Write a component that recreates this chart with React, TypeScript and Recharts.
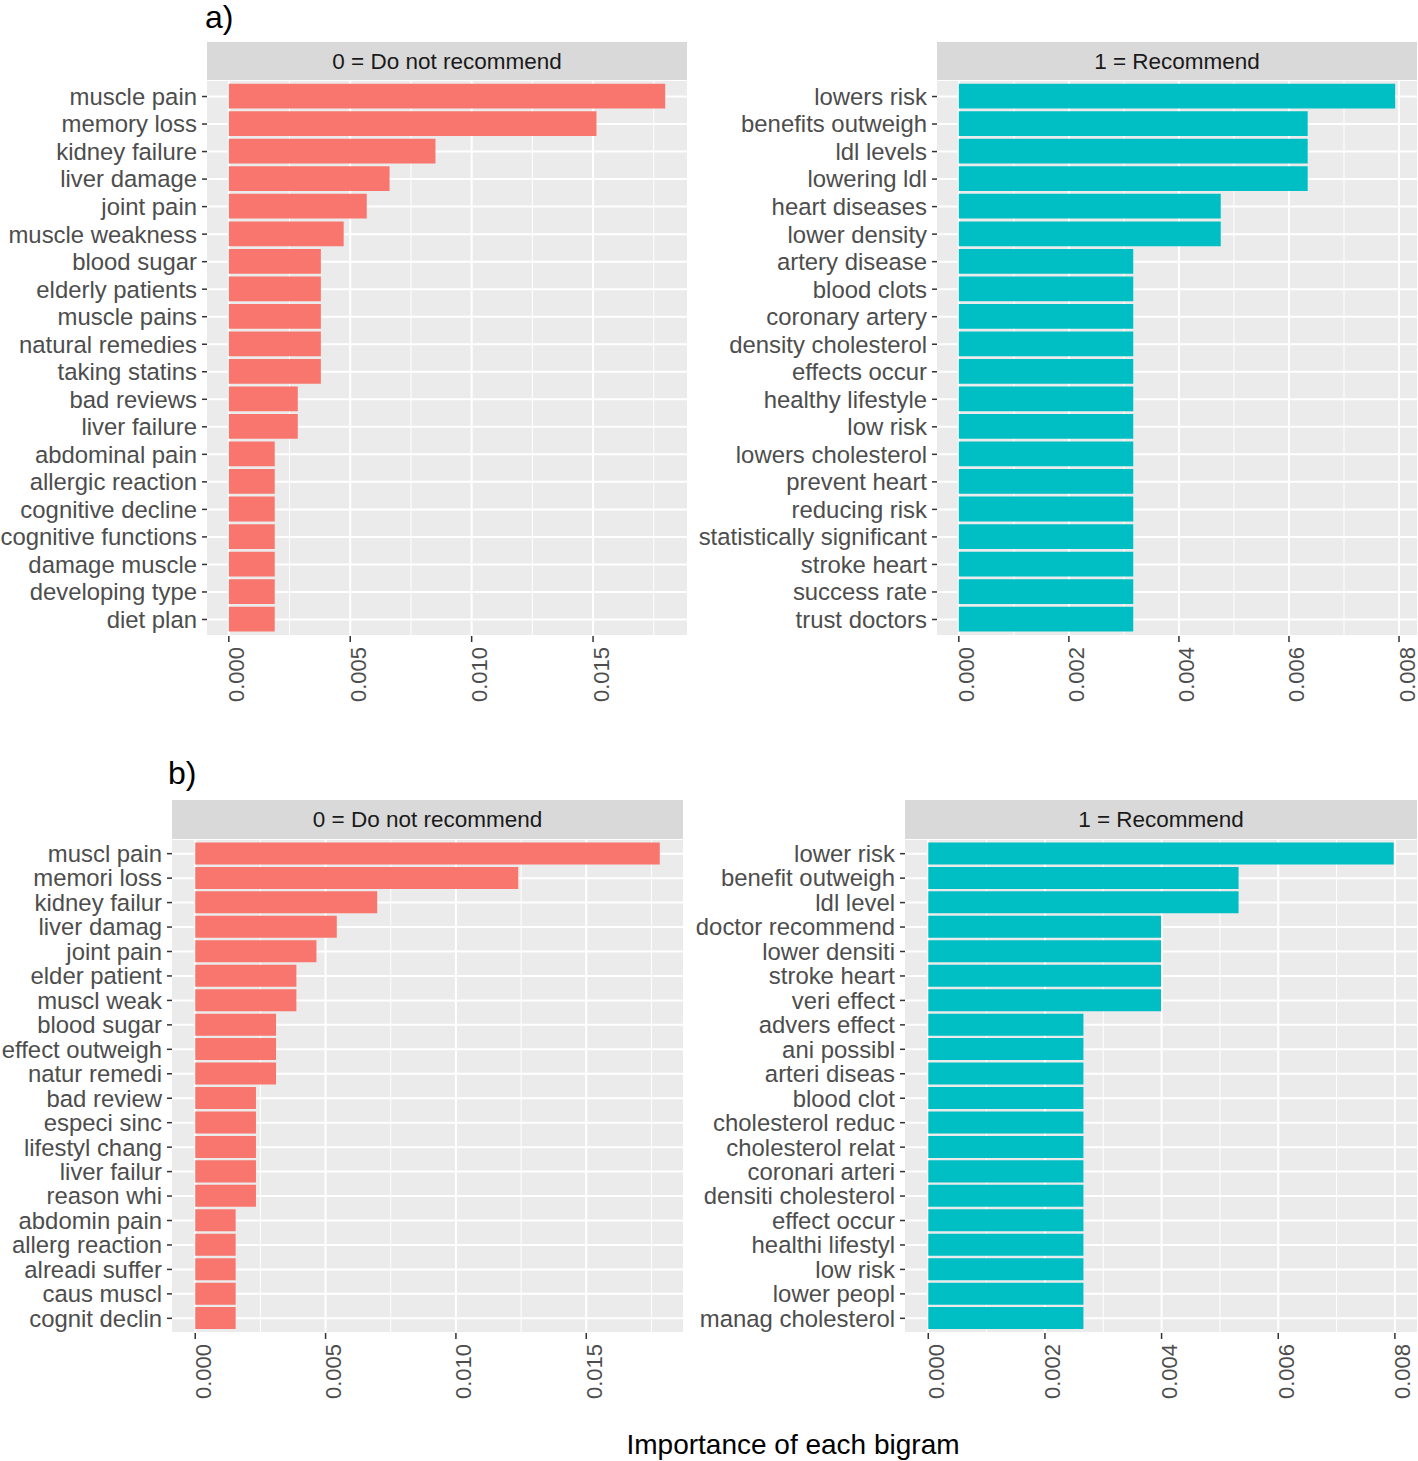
import React from 'react';
import { BarChart, Bar, XAxis, YAxis, CartesianGrid } from 'recharts';

// ---------- data ----------
const aNegTerms = [
  'muscle pain', 'memory loss', 'kidney failure', 'liver damage', 'joint pain',
  'muscle weakness', 'blood sugar', 'elderly patients', 'muscle pains', 'natural remedies',
  'taking statins', 'bad reviews', 'liver failure', 'abdominal pain', 'allergic reaction',
  'cognitive decline', 'cognitive functions', 'damage muscle', 'developing type', 'diet plan',
];
const aNegValues = [
  0.01797, 0.01514, 0.00851, 0.00662, 0.00568,
  0.00473, 0.00379, 0.00379, 0.00379, 0.00379,
  0.00379, 0.00284, 0.00284, 0.00189, 0.00189,
  0.00189, 0.00189, 0.00189, 0.00189, 0.00189,
];

const aPosTerms = [
  'lowers risk', 'benefits outweigh', 'ldl levels', 'lowering ldl', 'heart diseases',
  'lower density', 'artery disease', 'blood clots', 'coronary artery', 'density cholesterol',
  'effects occur', 'healthy lifestyle', 'low risk', 'lowers cholesterol', 'prevent heart',
  'reducing risk', 'statistically significant', 'stroke heart', 'success rate', 'trust doctors',
];
const aPosValues = [
  0.00793, 0.00634, 0.00634, 0.00634, 0.00476,
  0.00476, 0.00317, 0.00317, 0.00317, 0.00317,
  0.00317, 0.00317, 0.00317, 0.00317, 0.00317,
  0.00317, 0.00317, 0.00317, 0.00317, 0.00317,
];

const bNegTerms = [
  'muscl pain', 'memori loss', 'kidney failur', 'liver damag', 'joint pain',
  'elder patient', 'muscl weak', 'blood sugar', 'effect outweigh', 'natur remedi',
  'bad review', 'especi sinc', 'lifestyl chang', 'liver failur', 'reason whi',
  'abdomin pain', 'allerg reaction', 'alreadi suffer', 'caus muscl', 'cognit declin',
];
const bNegValues = [
  0.01782, 0.01239, 0.00698, 0.00543, 0.00465,
  0.00388, 0.00388, 0.00310, 0.00310, 0.00310,
  0.00233, 0.00233, 0.00233, 0.00233, 0.00233,
  0.00155, 0.00155, 0.00155, 0.00155, 0.00155,
];

const bPosTerms = [
  'lower risk', 'benefit outweigh', 'ldl level', 'doctor recommend', 'lower densiti',
  'stroke heart', 'veri effect', 'advers effect', 'ani possibl', 'arteri diseas',
  'blood clot', 'cholesterol reduc', 'cholesterol relat', 'coronari arteri', 'densiti cholesterol',
  'effect occur', 'healthi lifestyl', 'low risk', 'lower peopl', 'manag cholesterol',
];
const bPosValues = [
  0.00798, 0.00532, 0.00532, 0.00399, 0.00399,
  0.00399, 0.00399, 0.00266, 0.00266, 0.00266,
  0.00266, 0.00266, 0.00266, 0.00266, 0.00266,
  0.00266, 0.00266, 0.00266, 0.00266, 0.00266,
];

const ticksNeg = [0, 0.005, 0.01, 0.015];
const minorNeg = [0.0025, 0.0075, 0.0125, 0.0175];
const ticksPos = [0, 0.002, 0.004, 0.006, 0.008];
const minorPos = [0.001, 0.003, 0.005, 0.007];

const stripLabels = ['0 = Do not recommend', '1 = Recommend'];
const panelTags = ['a)', 'b)'];
const xTitle = 'Importance of each bigram';

// ---------- styling ----------
const FONT = '"Liberation Sans", Arial, Helvetica, sans-serif';
const RED = '#F8766D';
const CYAN = '#00BFC4';
const PANEL_BG = '#EBEBEB';
const STRIP_BG = '#D9D9D9';
const AXIS_TEXT = '#4D4D4D';
const TICK_COL = '#333333';
const X_AXIS_H = 80;

type PanelProps = {
  terms: string[];
  values: number[];
  color: string;
  ticks: number[];
  minor: number[];
  left: number;
  top: number;
  yAxisW: number;
  plotW: number;
  plotH: number;
};

const YTick = (props: any) => {
  const { x, y, payload } = props;
  return (
    <text x={x} y={y} dy="0.35em" textAnchor="end" fill={AXIS_TEXT}
      fontFamily={FONT} fontSize={23.9}>
      {payload.value}
    </text>
  );
};

const XTick = (props: any) => {
  const { x, y, payload } = props;
  return (
    <text transform={`translate(${x + 15.5},${y + 3}) rotate(-90)`} textAnchor="end"
      fill={AXIS_TEXT} fontFamily={FONT} fontSize={22}>
      {Number(payload.value).toFixed(3)}
    </text>
  );
};

function Panel(p: PanelProps) {
  const data = p.terms.map((t, i) => ({ name: t, value: p.values[i] }));
  const max = Math.max(...p.values);
  const domain = [-0.05 * max, 1.05 * max];
  const band = p.plotH / 20.2;
  const pad = band * 0.1;
  return (
    <div style={{ position: 'absolute', left: p.left, top: p.top }}>
      <BarChart
        width={p.yAxisW + p.plotW + 1}
        height={p.plotH + X_AXIS_H}
        data={data}
        layout="vertical"
        margin={{ top: 0, right: 1, bottom: 0, left: 0 }}
        style={{ overflow: 'visible' }}
      >
        <CartesianGrid fill={PANEL_BG} stroke="#FFFFFF" strokeWidth={1}
          horizontal={false} verticalValues={p.minor} />
        <CartesianGrid fill="none" stroke="#FFFFFF" strokeWidth={2}
          verticalValues={p.ticks} />
        <XAxis type="number" domain={domain} ticks={p.ticks} allowDataOverflow
          height={X_AXIS_H} axisLine={false} tickSize={6}
          tickLine={{ stroke: TICK_COL, strokeWidth: 1.5 }} tick={<XTick />}
          interval={0} />
        <YAxis type="category" dataKey="name" width={p.yAxisW}
          padding={{ top: pad, bottom: pad }} axisLine={false} tickSize={5}
          tickMargin={5} tickLine={{ stroke: TICK_COL, strokeWidth: 1.5 }}
          tick={<YTick />} interval={0} />
        <Bar dataKey="value" fill={p.color} barSize={band * 0.9}
          isAnimationActive={false} />
      </BarChart>
    </div>
  );
}

const strips = [
  { x: 207, y: 42, w: 480, h: 38, label: stripLabels[0] },
  { x: 937, y: 42, w: 480, h: 38, label: stripLabels[1] },
  { x: 172, y: 800, w: 511, h: 39, label: stripLabels[0] },
  { x: 905, y: 800, w: 512, h: 39, label: stripLabels[1] },
];

export default function App() {
  return (
    <div style={{ position: 'absolute', left: 0, top: 0, width: 1418, height: 1461, background: '#FFFFFF', fontFamily: FONT }}>
      <svg width={1418} height={1461} style={{ position: 'absolute', left: 0, top: 0 }}>
        {strips.map((s, i) => (
          <g key={i}>
            <rect x={s.x} y={s.y} width={s.w} height={s.h} fill={STRIP_BG} />
            <text x={s.x + s.w / 2} y={s.y + 27} textAnchor="middle" fill="#1A1A1A"
              fontFamily={FONT} fontSize={22.5}>{s.label}</text>
          </g>
        ))}
        <text x={205} y={28} fill="#000000" fontFamily={FONT} fontSize={32}>{panelTags[0]}</text>
        <text x={168} y={784} fill="#000000" fontFamily={FONT} fontSize={32}>{panelTags[1]}</text>
        <text x={793} y={1454} textAnchor="middle" fill="#000000" fontFamily={FONT} fontSize={28}>{xTitle}</text>
      </svg>
      <Panel terms={aNegTerms} values={aNegValues} color={RED} ticks={ticksNeg} minor={minorNeg}
        left={0} top={80} yAxisW={207} plotW={480} plotH={556} />
      <Panel terms={aPosTerms} values={aPosValues} color={CYAN} ticks={ticksPos} minor={minorPos}
        left={690} top={80} yAxisW={247} plotW={480} plotH={556} />
      <Panel terms={bNegTerms} values={bNegValues} color={RED} ticks={ticksNeg} minor={minorNeg}
        left={0} top={839} yAxisW={172} plotW={511} plotH={494} />
      <Panel terms={bPosTerms} values={bPosValues} color={CYAN} ticks={ticksPos} minor={minorPos}
        left={690} top={839} yAxisW={215} plotW={512} plotH={494} />
    </div>
  );
}
